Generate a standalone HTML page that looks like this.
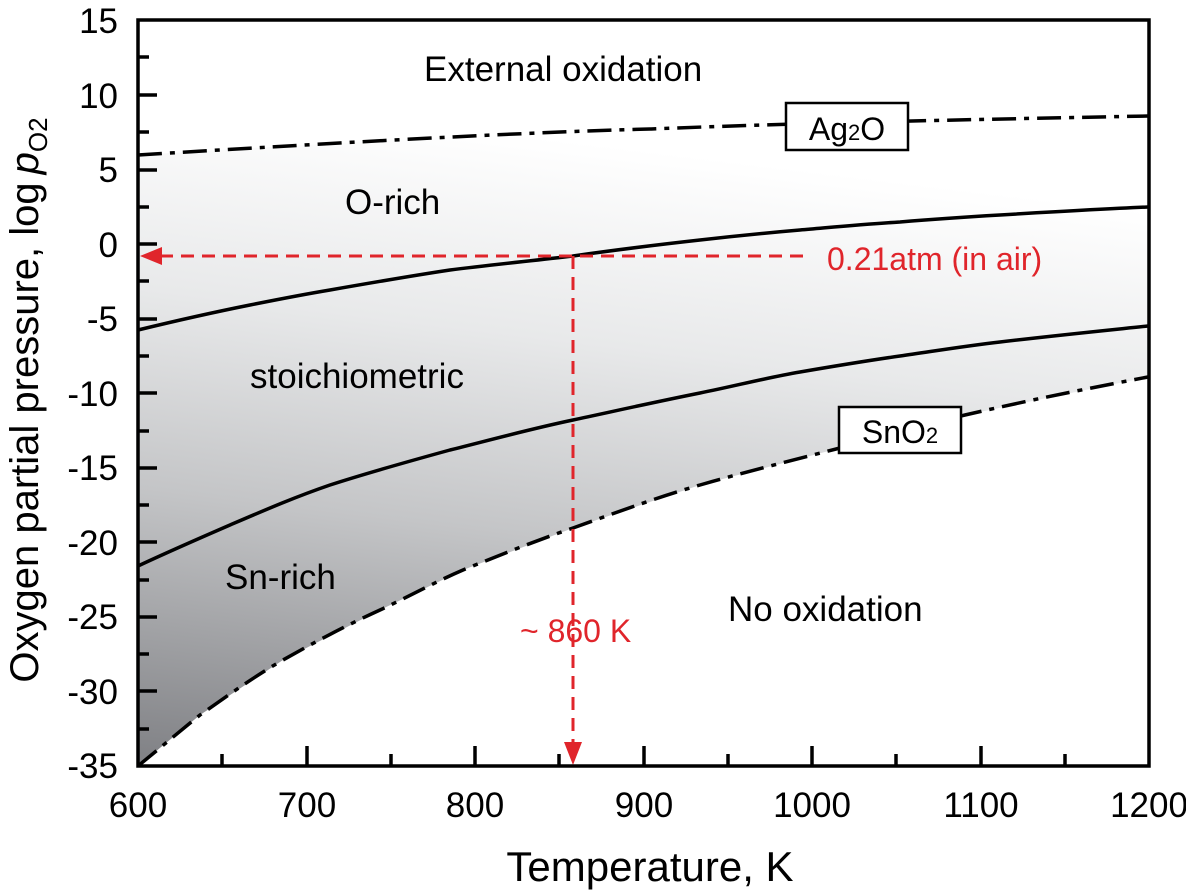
<!DOCTYPE html>
<html><head><meta charset="utf-8"><style>
html,body{margin:0;padding:0;background:#fff}
svg{display:block}
text{font-family:"Liberation Sans",Arial,sans-serif}
</style></head><body>
<svg width="1186" height="896" viewBox="0 0 1186 896">
<defs>
<linearGradient id="g" gradientUnits="userSpaceOnUse" x1="320" y1="110" x2="240" y2="766">
<stop offset="0" stop-color="#ffffff"/>
<stop offset="0.3" stop-color="#e8e9ea"/>
<stop offset="0.6" stop-color="#c4c5c7"/>
<stop offset="1" stop-color="#828387"/>
</linearGradient>
</defs>
<path d="M138,155 C300,145 500,133 650,129 C800,123 950,120 1148,116 L1148,377 L965,415 L840,448 L700,485 L573,528 L463,570 L380,610 L283,660 L200,715 L138,766 Z" fill="url(#g)"/>
<path d="M138,155 C300,145 500,133 650,129 C800,123 950,120 1148,116" fill="none" stroke="#000" stroke-width="3.5" stroke-dasharray="24,8,5,8"/>
<path d="M138,766 C160,748 185,727 200,715 C230,694 255,676 283,660 C315,642 345,626 380,610 C410,596 435,582 463,570 C500,555 535,541 573,528 C615,513 655,498 700,485 C745,472 790,461 840,448 C885,436 925,425 965,415 C1030,400 1090,388 1148,377" fill="none" stroke="#000" stroke-width="3.5" stroke-dasharray="24,8,5,8"/>
<path d="M138,330 C175,321 210,313 250,305 C275,300 300,295 330,290 C370,283 410,276 450,270 C490,265 530,261 573,256 C615,250 655,245 700,240 C735,236 765,233 800,230 C835,227 865,224 900,222 C935,219 965,217 1000,215 C1050,212 1100,209 1148,207" fill="none" stroke="#000" stroke-width="3.5"/>
<path d="M138,566 C170,551 200,538 230,525 C265,510 295,497 330,485 C370,472 410,461 450,450 C490,440 530,429 573,420 C615,411 655,402 700,393 C735,386 765,378 800,372 C835,366 865,361 900,356 C935,351 965,346 1000,342 C1050,336 1100,331 1148,326" fill="none" stroke="#000" stroke-width="3.5"/>
<rect x="786" y="103" width="122" height="47" fill="#fff" stroke="#000" stroke-width="2.5"/>
<text x="847" y="140" font-size="32" text-anchor="middle">Ag<tspan font-size="22">2</tspan>O</text>
<rect x="839" y="407" width="122" height="46" fill="#fff" stroke="#000" stroke-width="2.5"/>
<text x="900" y="443" font-size="32" text-anchor="middle">SnO<tspan font-size="22">2</tspan></text>
<g stroke="#e0252b" stroke-width="3" stroke-dasharray="13,8" fill="none">
<line x1="160" y1="256" x2="807" y2="256"/>
<line x1="573" y1="256" x2="573" y2="745"/>
</g>
<polygon points="140,256 162,247 162,265" fill="#e0252b"/>
<polygon points="573,765 564,742 582,742" fill="#e0252b"/>
<text x="827" y="270" font-size="32" fill="#e0252b">0.21atm (in air)</text>
<text x="520" y="642" font-size="32" fill="#e0252b">~ 860 K</text>
<text x="424" y="81" font-size="35">External oxidation</text>
<text x="345" y="214" font-size="35">O-rich</text>
<text x="250" y="388" font-size="35">stoichiometric</text>
<text x="225" y="589" font-size="35">Sn-rich</text>
<text x="728" y="621" font-size="35">No oxidation</text>
<rect x="138" y="20" width="1011" height="746" fill="none" stroke="#000" stroke-width="3.5"/>
<g stroke="#000" stroke-width="3.5">
<line x1="138" y1="95" x2="157" y2="95"/><line x1="138" y1="170" x2="157" y2="170"/>
<line x1="138" y1="244" x2="157" y2="244"/><line x1="138" y1="319" x2="157" y2="319"/>
<line x1="138" y1="393" x2="157" y2="393"/><line x1="138" y1="468" x2="157" y2="468"/>
<line x1="138" y1="542" x2="157" y2="542"/><line x1="138" y1="617" x2="157" y2="617"/>
<line x1="138" y1="691" x2="157" y2="691"/>
<line x1="138" y1="57" x2="149" y2="57"/><line x1="138" y1="132" x2="149" y2="132"/>
<line x1="138" y1="207" x2="149" y2="207"/><line x1="138" y1="281" x2="149" y2="281"/>
<line x1="138" y1="356" x2="149" y2="356"/><line x1="138" y1="431" x2="149" y2="431"/>
<line x1="138" y1="505" x2="149" y2="505"/><line x1="138" y1="580" x2="149" y2="580"/>
<line x1="138" y1="654" x2="149" y2="654"/><line x1="138" y1="729" x2="149" y2="729"/>
<line x1="307" y1="766" x2="307" y2="746"/><line x1="475" y1="766" x2="475" y2="746"/>
<line x1="644" y1="766" x2="644" y2="746"/><line x1="812" y1="766" x2="812" y2="746"/>
<line x1="981" y1="766" x2="981" y2="746"/>
<line x1="222" y1="766" x2="222" y2="754"/><line x1="391" y1="766" x2="391" y2="754"/>
<line x1="559" y1="766" x2="559" y2="754"/><line x1="728" y1="766" x2="728" y2="754"/>
<line x1="896" y1="766" x2="896" y2="754"/><line x1="1065" y1="766" x2="1065" y2="754"/>
</g>
<g font-size="35" text-anchor="end">
<text x="118" y="33">15</text><text x="118" y="108">10</text><text x="118" y="182">5</text>
<text x="118" y="257">0</text><text x="118" y="331">-5</text><text x="118" y="406">-10</text>
<text x="118" y="480">-15</text><text x="118" y="555">-20</text><text x="118" y="629">-25</text>
<text x="118" y="704">-30</text><text x="118" y="778">-35</text>
</g>
<g font-size="35" text-anchor="middle">
<text x="138" y="817">600</text><text x="307" y="817">700</text><text x="475" y="817">800</text>
<text x="644" y="817">900</text><text x="812" y="817">1000</text><text x="981" y="817">1100</text>
<text x="1149" y="817">1200</text>
</g>
<text x="650" y="881" font-size="42" text-anchor="middle">Temperature, K</text>
<text transform="translate(38,400) rotate(-90)" font-size="40" text-anchor="middle">Oxygen partial pressure, log<tspan font-style="italic" dx="8">p</tspan><tspan font-size="26" dy="9">O2</tspan></text>
</svg>
</body></html>
